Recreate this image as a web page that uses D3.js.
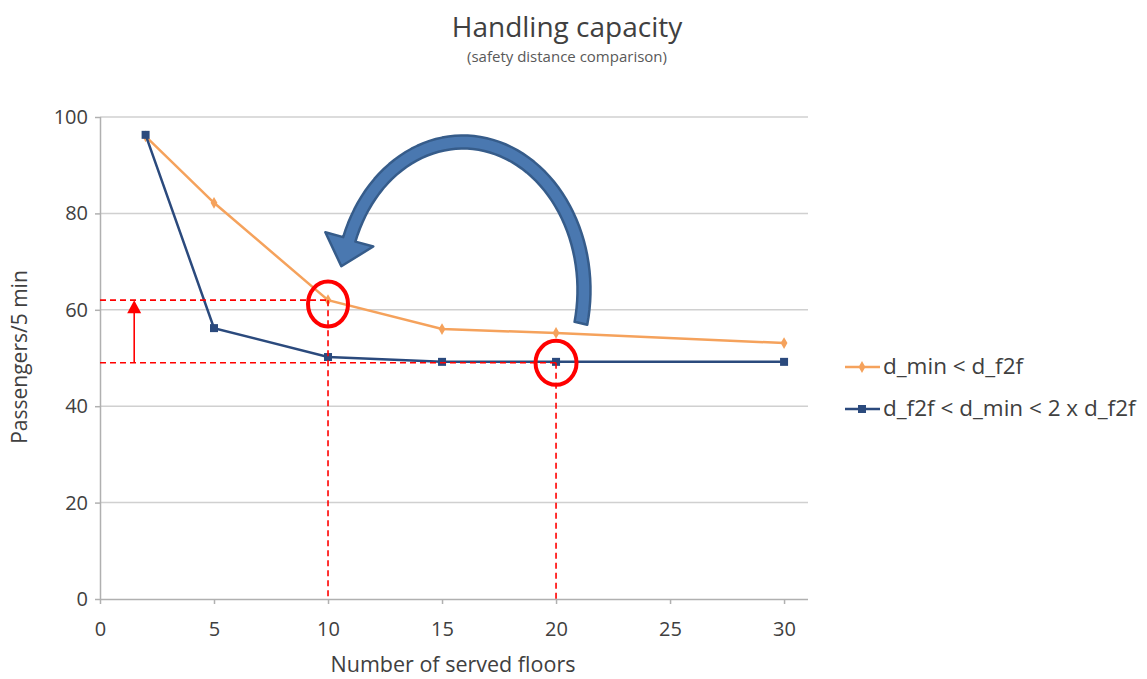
<!DOCTYPE html>
<html><head><meta charset="utf-8">
<script src="https://cdn.jsdelivr.net/npm/d3@7"></script>
<style>body{margin:0;background:#fff;} svg{display:block;font-family:"Open Sans",sans-serif;}</style>
</head><body>
<script>
const floors = [2, 5, 10, 15, 20, 30];
const seriesA = [96, 82.2, 62, 56, 55.2, 53.1];   // d_min < d_f2f
const seriesB = [96.3, 56.2, 50.2, 49.2, 49.2, 49.2]; // d_f2f < d_min < 2 x d_f2f
const seriesNames = ["d_min < d_f2f", "d_f2f < d_min < 2 x d_f2f"];
const xTicks = [0, 5, 10, 15, 20, 25, 30];
const yTicks = [0, 20, 40, 60, 80, 100];

const W = 1147, H = 679;
const svg = d3.select("body").append("svg").attr("width", W).attr("height", H);
const x = d3.scaleLinear().domain([0, 31.05]).range([100, 808]);
const y = d3.scaleLinear().domain([0, 100]).range([599, 117]);

// gridlines
svg.append("g").selectAll("line").data(yTicks.filter(d => d > 0)).join("line")
  .attr("x1", x(0)).attr("x2", x(31.05)).attr("y1", d => y(d)).attr("y2", d => y(d))
  .attr("stroke", "#d0d0d0").attr("stroke-width", 1.5);

// axes
const gx = svg.append("g").attr("transform", `translate(0,${y(0)})`)
  .call(d3.axisBottom(x).tickValues(xTicks).tickSize(5).tickPadding(18).tickFormat(d3.format("d")));
const gy = svg.append("g").attr("transform", `translate(${x(0)},0)`)
  .call(d3.axisLeft(y).tickValues(yTicks).tickSize(5).tickPadding(7).tickFormat(d3.format("d")));
[gx, gy].forEach(g => {
  g.select(".domain").attr("stroke", "#b0b0b0").attr("stroke-width", 1.5);
  g.selectAll(".tick line").attr("stroke", "#b0b0b0").attr("stroke-width", 1.5);
  g.selectAll(".tick text").attr("fill", "#404040").attr("font-size", 20).attr("font-family", "Open Sans");
});
gx.select(".domain").attr("d", `M${x(0)},0.5H${x(31.05)}`);
gy.select(".domain").attr("d", `M0.5,${y(0)}V${y(100)}`);

// titles
svg.append("text").attr("x", 567).attr("y", 37).attr("text-anchor", "middle")
  .attr("font-size", 28).attr("fill", "#404040").text("Handling capacity");
svg.append("text").attr("x", 567).attr("y", 62).attr("text-anchor", "middle")
  .attr("font-size", 15).attr("fill", "#595959").text("(safety distance comparison)");
svg.append("text").attr("x", 453).attr("y", 672).attr("text-anchor", "middle")
  .attr("font-size", 21.5).attr("fill", "#404040").text("Number of served floors");
svg.append("text").attr("transform", "translate(27,357) rotate(-90)").attr("text-anchor", "middle")
  .attr("font-size", 21).attr("fill", "#404040").text("Passengers/5 min");

// series
const colA = "#f5a25c", colB = "#2b4a7d";
const dataA = floors.map((f, i) => [f, seriesA[i]]);
const dataB = floors.map((f, i) => [f, seriesB[i]]);
const line = d3.line().x(d => x(d[0])).y(d => y(d[1]));
svg.append("path").datum(dataA).attr("d", line).attr("fill", "none").attr("stroke", colA).attr("stroke-width", 2.5);
svg.append("g").selectAll("path").data(dataA).join("path")
  .attr("transform", d => `translate(${x(d[0])},${y(d[1])})`)
  .attr("d", d3.symbol(d3.symbolDiamond, 40)).attr("fill", colA);
svg.append("path").datum(dataB).attr("d", line).attr("fill", "none").attr("stroke", colB).attr("stroke-width", 2.5);
svg.append("g").selectAll("rect").data(dataB).join("rect")
  .attr("x", d => x(d[0]) - 4).attr("y", d => y(d[1]) - 4).attr("width", 8).attr("height", 8).attr("fill", colB);

// red annotation
const red = "#ff0000";
const dash = "6,4";
const ann = svg.append("g").attr("stroke", red).attr("stroke-width", 1.6).attr("fill", "none");
ann.append("line").attr("x1", x(0)).attr("x2", x(10)).attr("y1", y(62)).attr("y2", y(62)).attr("stroke-dasharray", dash);
ann.append("line").attr("x1", x(0)).attr("x2", x(20)).attr("y1", y(49)).attr("y2", y(49)).attr("stroke-dasharray", dash);
ann.append("line").attr("x1", x(10)).attr("x2", x(10)).attr("y1", y(62)).attr("y2", y(0)).attr("stroke-dasharray", dash);
ann.append("line").attr("x1", x(20)).attr("x2", x(20)).attr("y1", y(49)).attr("y2", y(0)).attr("stroke-dasharray", dash);
ann.append("line").attr("x1", x(1.5)).attr("x2", x(1.5)).attr("y1", y(49)).attr("y2", y(62) + 10);
svg.append("path").attr("fill", red)
  .attr("d", `M${x(1.5)},${y(62)}L${x(1.5) - 7},${y(62) + 13}L${x(1.5) + 7},${y(62) + 13}Z`);
ann.append("ellipse").attr("cx", x(10)).attr("cy", y(61.2)).attr("rx", 20).attr("ry", 22.5).attr("stroke-width", 4);
ann.append("ellipse").attr("cx", x(20)).attr("cy", y(49)).attr("rx", 20.5).attr("ry", 22).attr("stroke-width", 4);

// curved blue arrow
const cx = 463, cy = 290, rx = 121, ry = 148, hw = 6.5;
const t0 = -13 * Math.PI / 180, t1 = 160 * Math.PI / 180;
const ts = d3.range(0, 61).map(i => t0 + (t1 - t0) * i / 60);
const pt = (t, o) => [cx + (rx + o) * Math.cos(t), cy - (ry + o) * Math.sin(t)];
const outer = ts.map(t => pt(t, hw));
const inner = ts.map(t => pt(t, -hw)).reverse();
const base = pt(t1, 0);
let tx = -rx * Math.sin(t1), ty = -ry * Math.cos(t1);
const tl = Math.hypot(tx, ty); tx /= tl; ty /= tl;
const px = -ty, py = tx;
const tip = [base[0] + tx * 28, base[1] + ty * 28];
const wing1 = [base[0] + px * 25, base[1] + py * 25];
const wing2 = [base[0] - px * 25, base[1] - py * 25];
const poly = [...outer, wing1, tip, wing2, ...inner];
svg.append("path").attr("d", "M" + poly.map(p => p.join(",")).join("L") + "Z")
  .attr("fill", "#4a78b0").attr("stroke", "#365c8a").attr("stroke-width", 2.5).attr("stroke-linejoin", "round");

// legend
const lg = svg.append("g");
[[colA, 367, "d"], [colB, 409, "s"]].forEach(([c, ly, m], i) => {
  lg.append("line").attr("x1", 845).attr("x2", 880).attr("y1", ly).attr("y2", ly).attr("stroke", c).attr("stroke-width", 2.5);
  if (m === "d") lg.append("path").attr("transform", `translate(862,${ly})`).attr("d", d3.symbol(d3.symbolDiamond, 40)).attr("fill", c);
  else lg.append("rect").attr("x", 858).attr("y", ly - 4).attr("width", 8).attr("height", 8).attr("fill", c);
  lg.append("text").attr("x", 883).attr("y", ly + 7).attr("font-size", 22.5).attr("fill", "#404040").text(seriesNames[i]);
});
</script>
</body></html>
